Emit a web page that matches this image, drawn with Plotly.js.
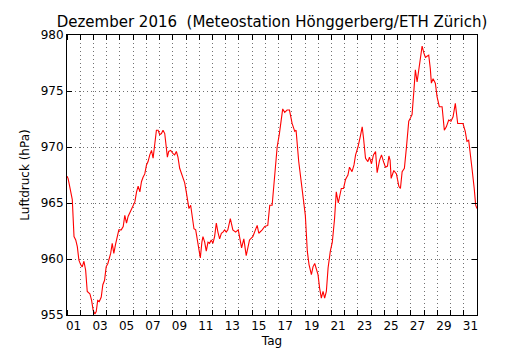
<!DOCTYPE html>
<html>
<head>
<meta charset="utf-8">
<script src="https://cdn.plot.ly/plotly-3.0.1.min.js"></script>
<style>html,body{margin:0;padding:0;background:#fff}#chart{width:530px;height:350px}</style>
</head>
<body>
<div id="chart"></div>
<script>
// Time in days since 1 Dec 2016 00:00
const days = [0.00,0.08,0.15,0.28,0.40,0.53,0.66,0.78,0.90,1.03,1.15,1.28,1.41,1.53,1.73,1.86,1.98,2.11,2.21,2.32,2.44,2.59,2.71,2.84,2.96,3.09,3.22,3.30,3.42,3.54,3.67,3.79,3.92,4.10,4.25,4.37,4.50,4.62,4.75,4.88,5.00,5.13,5.26,5.38,5.51,5.63,5.75,5.88,6.01,6.13,6.26,6.39,6.51,6.64,6.76,6.89,7.01,7.14,7.26,7.39,7.52,7.59,7.69,7.84,8.02,8.14,8.27,8.39,8.52,8.65,8.77,8.90,9.03,9.15,9.22,9.35,9.48,9.60,9.73,9.86,9.95,10.08,10.20,10.28,10.41,10.53,10.66,10.78,10.91,11.03,11.16,11.29,11.41,11.54,11.67,11.79,11.92,12.04,12.16,12.35,12.54,12.75,12.95,13.20,13.37,13.55,13.80,14.05,14.38,14.50,14.76,14.95,15.18,15.33,15.51,15.76,15.89,16.06,16.21,16.31,16.46,16.64,16.82,17.02,17.22,17.32,17.52,17.82,18.02,18.17,18.30,18.48,18.60,18.73,18.85,18.98,19.10,19.23,19.36,19.48,19.61,19.74,19.91,20.06,20.23,20.36,20.51,20.74,20.91,21.06,21.24,21.36,21.55,21.70,21.82,22.00,22.17,22.32,22.42,22.57,22.75,22.87,23.02,23.17,23.33,23.45,23.63,23.78,23.93,24.08,24.23,24.34,24.43,24.51,24.71,24.91,25.09,25.21,25.34,25.51,25.66,25.84,25.97,26.09,26.22,26.34,26.47,26.60,26.72,26.85,26.98,27.10,27.22,27.35,27.47,27.55,27.68,27.85,27.98,28.15,28.36,28.53,28.68,28.86,29.03,29.19,29.36,29.54,29.74,29.94,30.11,30.24,30.37,30.49,30.62,30.79,30.90,31.00];
const pressure = [967.4,967.2,966.8,965.9,965.3,962.0,961.7,961.1,959.9,959.5,959.3,959.8,959.0,957.1,956.9,956.3,955.4,955.1,955.3,956.3,956.2,956.6,957.7,958.1,959.3,959.6,960.1,960.5,961.4,960.5,961.3,962.1,962.6,962.6,962.9,963.9,963.2,963.8,964.1,964.5,964.7,965.1,966.0,966.5,966.0,966.9,967.3,967.6,968.4,968.7,969.3,969.7,969.0,970.2,971.5,971.5,971.1,971.2,971.5,971.2,969.6,969.1,969.6,969.7,969.4,969.3,969.6,969.1,968.1,967.6,967.2,966.8,965.9,965.0,964.5,964.8,963.9,962.7,962.6,961.7,961.0,960.1,961.5,962.0,961.5,960.7,961.5,961.4,961.7,961.4,962.0,963.2,962.4,961.8,962.3,962.4,962.6,962.4,962.6,963.6,962.6,962.4,962.6,961.0,961.8,960.3,961.7,962.0,963.0,962.3,962.6,962.9,963.0,964.8,964.8,968.7,970.0,971.2,972.3,973.4,973.1,973.3,973.3,972.1,971.4,971.5,968.7,965.7,963.9,960.7,959.5,958.6,959.3,959.6,959.2,958.6,957.4,956.5,957.1,956.5,957.1,959.2,960.7,961.5,963.6,966.0,965.0,966.3,966.3,967.1,967.5,968.2,967.8,968.4,969.3,970.0,970.9,971.8,970.8,969.0,968.7,969.1,968.5,969.3,969.6,967.7,968.8,969.3,968.7,968.2,968.3,969.2,968.8,967.2,967.9,967.6,966.5,966.3,967.8,968.1,969.9,972.3,972.6,972.9,974.9,976.9,975.8,977.0,978.2,979.0,978.4,978.0,978.1,978.2,977.0,975.7,976.1,975.7,974.5,973.6,973.6,971.5,971.8,972.4,972.3,972.7,973.9,972.1,972.1,972.1,971.4,970.5,970.6,969.1,968.1,966.3,964.8,964.5];
const tickDays = [0.5,2.5,4.5,6.5,8.5,10.5,12.5,14.5,16.5,18.5,20.5,22.5,24.5,26.5,28.5,30.5];
const tickLabels = ["01","03","05","07","09","11","13","15","17","19","21","23","25","27","29","31"];
const titleText = "Dezember 2016  (Meteostation Hönggerberg/ETH Zürich)";

const font = {family: "DejaVu Sans, sans-serif", size: 12, color: "#000"};
const grid = {gridcolor: "#333", gridwidth: 0.7, griddash: "1px,3px"};

Plotly.newPlot("chart", [{
  x: days, y: pressure, type: "scatter", mode: "lines",
  line: {color: "#ff0000", width: 1.1}, hoverinfo: "skip"
}], {
  width: 530, height: 350,
  margin: {l: 67, r: 53, t: 35, b: 35},
  paper_bgcolor: "#fff", plot_bgcolor: "#fff",
  font: font,
  showlegend: false,
  title: {text: titleText, font: {family: "DejaVu Sans, sans-serif", size: 15, color: "#000"},
          x: 0.5, xref: "paper", xanchor: "center", y: 0.937, yref: "container", yanchor: "middle"},
  xaxis: {
    range: [0, 31], tickmode: "array", tickvals: tickDays, ticktext: tickLabels,
    ticks: "", showgrid: false, zeroline: false,
    showline: true, linecolor: "#000", linewidth: 1, mirror: "allticks",
    tickfont: font,
    minor: Object.assign({tickmode: "linear", tick0: 0, dtick: 1, ticks: "inside", ticklen: 5,
            tickcolor: "#000", tickwidth: 1, showgrid: true}, grid),
    title: {text: "Tag", font: font, standoff: 4}
  },
  yaxis: Object.assign({
    range: [955, 980], tickmode: "linear", tick0: 955, dtick: 5,
    ticks: "inside", ticklen: 5, tickcolor: "#000", tickwidth: 1,
    showgrid: true, zeroline: false,
    showline: true, linecolor: "#000", linewidth: 1, mirror: "allticks",
    tickfont: font,
    title: {text: "Luftdruck (hPa)", font: font, standoff: 8}
  }, grid)
}, {staticPlot: true, displayModeBar: false});
</script>
</body>
</html>
